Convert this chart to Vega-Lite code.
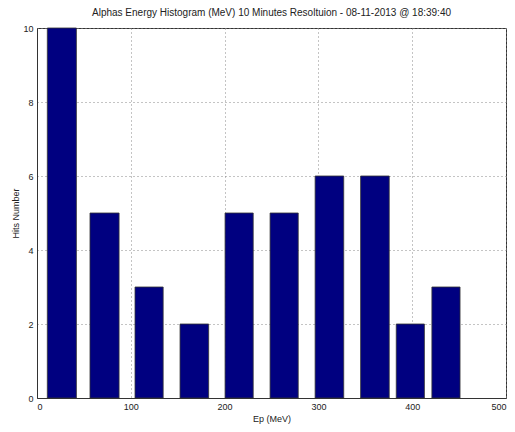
{
  "$schema": "https://vega.github.io/schema/vega-lite/v6.json",
  "width": 469,
  "height": 370,
  "autosize": {"type": "none"},
  "padding": {"left": 37, "top": 28, "right": 9, "bottom": 34},
  "background": "white",
  "title": {
    "text": "Alphas Energy Histogram (MeV) 10 Minutes Resoltuion - 08-11-2013 @ 18:39:40",
    "fontSize": 10,
    "font": "Liberation Sans",
    "fontWeight": "normal",
    "color": "#222",
    "offset": 6
  },
  "config": {
    "view": {"stroke": "#333", "strokeWidth": 1},
    "axis": {
      "labelFont": "Liberation Sans",
      "titleFont": "Liberation Sans",
      "labelFontSize": 9,
      "titleFontSize": 9,
      "titleFontWeight": "normal",
      "labelColor": "#222",
      "titleColor": "#222",
      "domainColor": "#333",
      "gridColor": "#888",
      "gridDash": [1, 3],
      "gridOpacity": 1,
      "ticks": false,
      "labelPadding": 4
    }
  },
  "data": {
    "values": [
      {"x0": 11, "x1": 42, "hits": 10},
      {"x0": 56.5, "x1": 87.5, "hits": 5},
      {"x0": 104.5, "x1": 134.5, "hits": 3},
      {"x0": 152.5, "x1": 183, "hits": 2},
      {"x0": 200.5, "x1": 230.5, "hits": 5},
      {"x0": 248.5, "x1": 278.5, "hits": 5},
      {"x0": 296.5, "x1": 327, "hits": 6},
      {"x0": 345, "x1": 375.5, "hits": 6},
      {"x0": 383, "x1": 413, "hits": 2},
      {"x0": 421, "x1": 451, "hits": 3}
    ]
  },
  "mark": {"type": "bar", "color": "#000080", "stroke": "#333", "strokeWidth": 0.8},
  "encoding": {
    "x": {
      "field": "x0",
      "type": "quantitative",
      "scale": {"domain": [0, 500], "nice": false, "padding": 0},
      "axis": {"title": "Ep (MeV)", "values": [0, 100, 200, 300, 400, 500], "titlePadding": 3}
    },
    "x2": {"field": "x1"},
    "y": {
      "field": "hits",
      "type": "quantitative",
      "scale": {"domain": [0, 10], "nice": false, "padding": 0},
      "axis": {"title": "Hits Number", "values": [0, 2, 4, 6, 8, 10], "titlePadding": 2}
    },
    "y2": {"datum": 0}
  }
}
